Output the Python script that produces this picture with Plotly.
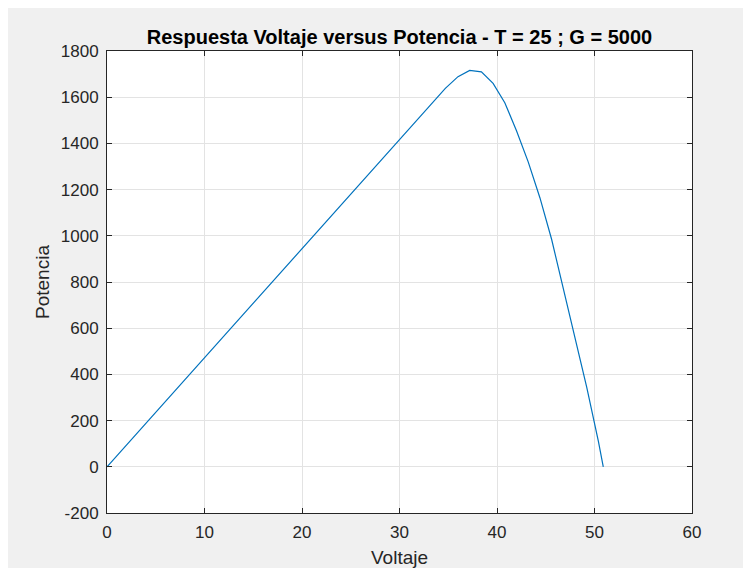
import plotly.graph_objects as go

voltaje = [0, 34.7, 36.0, 37.2, 38.4, 39.6, 40.8, 42.0, 43.2, 44.4, 45.6, 46.8, 48.0, 49.2, 50.4, 50.9]
potencia = [0, 1638, 1689, 1716, 1710, 1660, 1576, 1455, 1320, 1165, 985, 770, 560, 345, 110, 0]

x_ticks = [0, 10, 20, 30, 40, 50, 60]
y_ticks = [-200, 0, 200, 400, 600, 800, 1000, 1200, 1400, 1600, 1800]

# figure sits inside the page at an 8px body margin
W, H = 751, 568
L, R, T, B = 99, 684, 43, 505

font = "Liberation Sans, Arial, Helvetica, sans-serif"
axcol = "#262626"

fig = go.Figure()
fig.add_trace(go.Scatter(x=voltaje, y=potencia, mode="lines",
                         line=dict(color="#0072BD", width=1.2), showlegend=False))

axis_common = dict(showgrid=True, gridcolor="#e3e3e3", gridwidth=1,
                   zeroline=False, showline=True, linecolor=axcol, linewidth=1,
                   mirror="allticks", ticks="inside", ticklen=5, tickcolor=axcol,
                   tickfont=dict(family=font, size=17, color=axcol))

fig.update_xaxes(range=[0, 60], tickvals=x_ticks, ticktext=[str(v) for v in x_ticks],
                 title=dict(text="Voltaje", font=dict(family=font, size=19, color=axcol), standoff=9),
                 ticklabelstandoff=4, **axis_common)
fig.update_yaxes(range=[-200, 1800], tickvals=y_ticks, ticktext=[str(v) for v in y_ticks],
                 title=dict(text="Potencia", font=dict(family=font, size=19, color=axcol), standoff=6),
                 ticklabelstandoff=4, **axis_common)

fig.update_layout(
    width=W, height=H,
    margin=dict(l=L, r=W - R, t=T, b=H - B, pad=0),
    paper_bgcolor="#f0f0f0", plot_bgcolor="white",
    title=dict(text="<b>Respuesta Voltaje versus Potencia - T = 25 ; G = 5000</b>",
               font=dict(family=font, size=20, color="black"),
               x=0.5, xanchor="center", xref="paper", y=1 - 29 / H, yanchor="middle"),
)

fig.write_html("out.html")
